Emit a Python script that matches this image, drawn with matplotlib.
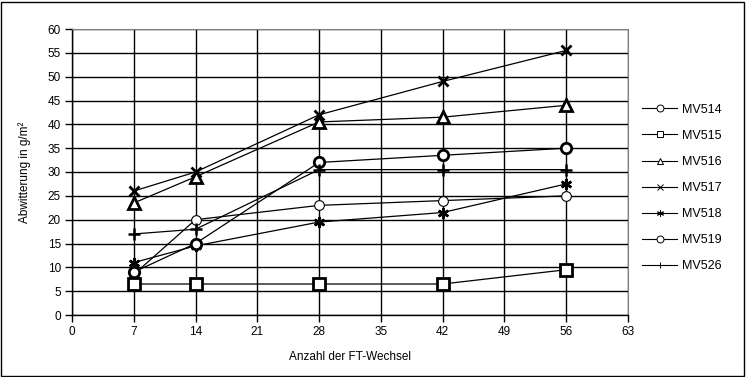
import matplotlib.pyplot as plt
from matplotlib.lines import Line2D
from matplotlib.patches import Rectangle

plt.rcParams['font.family'] = ['Liberation Sans', 'DejaVu Sans']

# --- data ---
cycles = [7, 14, 28, 42, 56]
mv514 = [8.5, 20, 23, 24, 25]
mv515 = [6.5, 6.5, 6.5, 6.5, 9.5]
mv516 = [23.5, 29, 40.5, 41.5, 44]
mv517 = [26, 30, 42, 49, 55.5]
mv518 = [11, 14.5, 19.5, 21.5, 27.5]
mv519 = [9, 15, 32, 33.5, 35]
mv526 = [17, 18, 30.5, 30.5, 30.5]

series_names = ['MV514', 'MV515', 'MV516', 'MV517', 'MV518', 'MV519', 'MV526']
series_values = [mv514, mv515, mv516, mv517, mv518, mv519, mv526]
x_ticks = [0, 7, 14, 21, 28, 35, 42, 49, 56, 63]
y_ticks = list(range(0, 61, 5))

ASTERISK = (6, 2, 0)
# marker, size, edge width in the plot
styles = {
    'MV514': ('o', 7, 0.8),
    'MV515': ('s', 8, 2.0),
    'MV516': ('^', 8, 2.0),
    'MV517': ('x', 7, 2.0),
    'MV518': (ASTERISK, 8, 1.8),
    'MV519': ('o', 7.5, 2.0),
    'MV526': ('+', 8, 1.8),
}

fig = plt.figure(figsize=(7.46, 3.77), dpi=100)
ax = fig.add_axes([72 / 746, 1 - 315 / 377, 556 / 746, 286 / 377])

for name, vals in zip(series_names, series_values):
    m, ms, mew = styles[name]
    ax.plot(cycles, vals, color='black', lw=0.9, marker=m, ms=ms, mew=mew,
            mfc='white' if m in ('o', 's', '^') else 'none', mec='black',
            zorder=3)

ax.set_xlim(0, 63)
ax.set_ylim(0, 60)
ax.set_xticks(x_ticks)
ax.set_yticks(y_ticks)
ax.grid(True, color='black', lw=1.0)
ax.set_axisbelow(True)
ax.tick_params(labelsize=8.5, length=5, width=1, color='black', pad=3)
for s in ('top', 'right'):
    ax.spines[s].set_color('#808080')
for s in ('left', 'bottom'):
    ax.spines[s].set_color('black')
    ax.spines[s].set_linewidth(1.0)

ax.set_xlabel('Anzahl der FT-Wechsel', fontsize=8.5, labelpad=9)
ax.set_ylabel('Abwitterung in g/m²', fontsize=8.5, labelpad=12)

# legend with small thin markers
handles = []
for name in series_names:
    m = styles[name][0]
    handles.append(Line2D([0], [0], color='black', lw=0.8, marker=m, ms=5,
                          mew=0.7, mfc='white', mec='black'))
fig.legend(handles, series_names, loc='center left',
           bbox_to_anchor=(631 / 746, 1 - 188 / 377), frameon=False,
           fontsize=9, handlelength=2.8, labelspacing=1.13, handletextpad=0.35)

# outer chart border
fig.patches.append(Rectangle((0.002, 0.003), 0.995, 0.993, transform=fig.transFigure,
                             fill=False, edgecolor='black', lw=1.0))

fig.savefig('out.png', dpi=100)
